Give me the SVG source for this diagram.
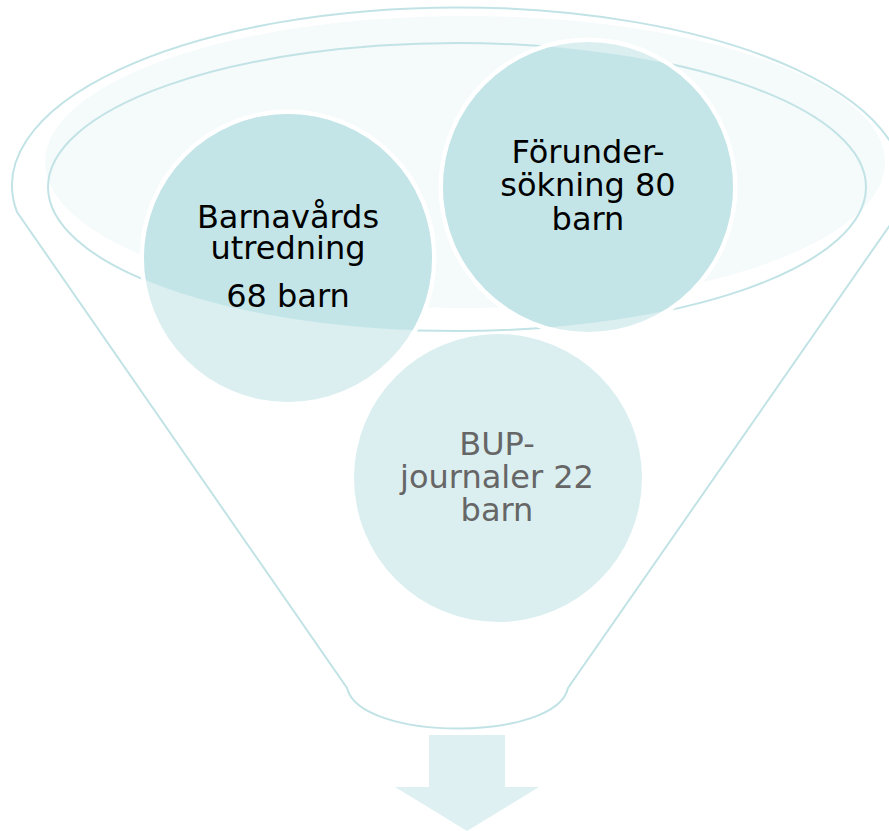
<svg xmlns="http://www.w3.org/2000/svg" width="889" height="831" viewBox="0 0 889 831">
  <style>
    .outline { fill: none; stroke: #C2E3E6; stroke-width: 2; }
    .lbl { font-family: "DejaVu Sans", Verdana, sans-serif; font-size: 32px; text-anchor: middle; }
    .dark { fill: #000000; }
    .gray { fill: #666666; }
    .cLight { fill: #DBEFF0; }
    .cDark { fill: #C4E5E8; }
    .ring { fill: none; stroke: #FFFFFF; stroke-width: 5; }
  </style>
  <defs>
    <clipPath id="innerClip">
      <ellipse cx="457" cy="187" rx="409" ry="144"/>
    </clipPath>
  </defs>
  <rect width="889" height="831" fill="#FFFFFF"/>

  <g id="funnel">
    <ellipse cx="465" cy="162" rx="420" ry="146" fill="#F5FAFB"/>
    <path class="outline" d="M17,212 A446,178 0 1 1 899,212 L568,688 C556,742 360,742 347,688 Z"/>
    <ellipse class="outline" cx="457" cy="187" rx="409" ry="144"/>
  </g>

  <g id="node-bup">
    <circle class="cLight" cx="498" cy="478" r="144"/>
    <text class="lbl gray" x="497" y="455">BUP-</text>
    <text class="lbl gray" x="497" y="488">journaler 22</text>
    <text class="lbl gray" x="497" y="521">barn</text>
  </g>

  <g id="node-barnavard">
    <circle class="ring" cx="288" cy="258" r="146"/>
    <circle class="cLight" cx="288" cy="258" r="144"/>
    <circle class="cDark" cx="288" cy="258" r="144" clip-path="url(#innerClip)"/>
    <text class="lbl dark" x="288" y="228">Barnavårds</text>
    <text class="lbl dark" x="288" y="259">utredning</text>
    <text class="lbl dark" x="288" y="307">68 barn</text>
  </g>

  <g id="node-forundersokning">
    <circle class="ring" cx="588" cy="187" r="147"/>
    <circle class="cLight" cx="588" cy="187" r="145"/>
    <circle class="cDark" cx="588" cy="187" r="145" clip-path="url(#innerClip)"/>
    <text class="lbl dark" x="588" y="163">Förunder-</text>
    <text class="lbl dark" x="588" y="196">sökning 80</text>
    <text class="lbl dark" x="588" y="230">barn</text>
  </g>

  <g id="connectors">
    <polygon points="429,735 505,735 505,787 539,787 467,831 395,787 429,787" fill="#DFF0F2"/>
  </g>
</svg>
